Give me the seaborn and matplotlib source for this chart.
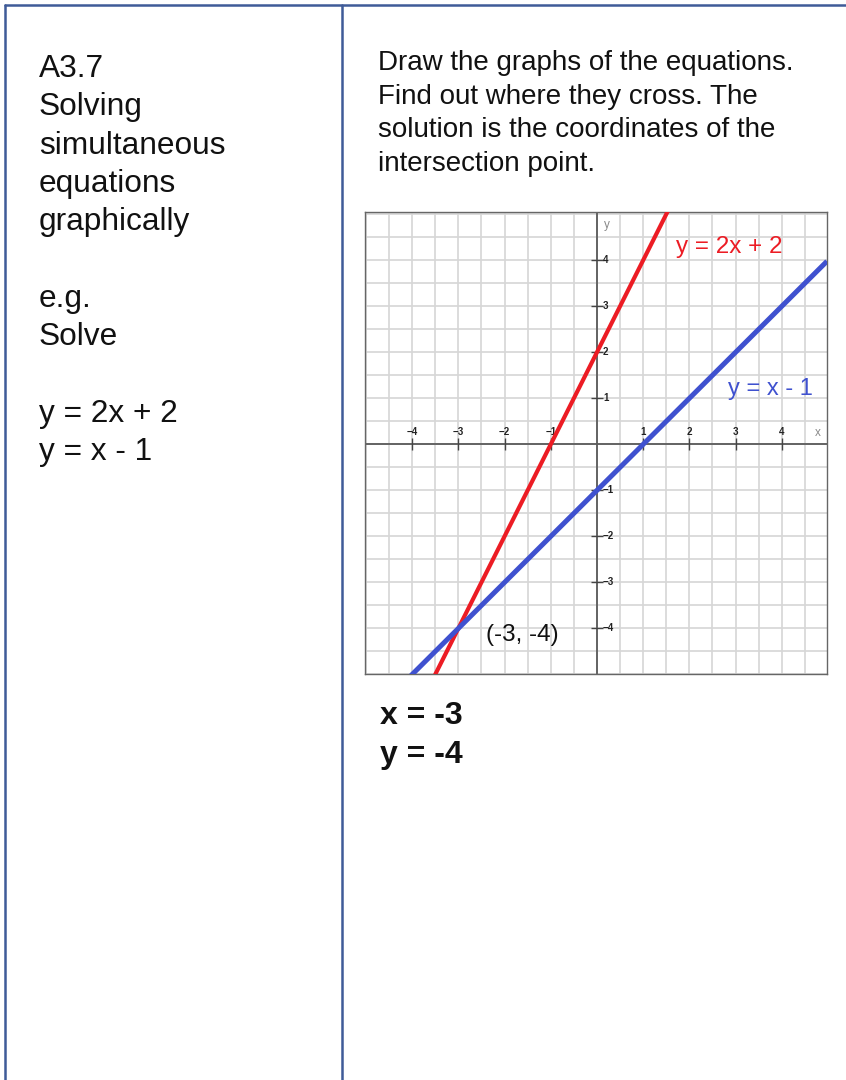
import numpy as np
import pandas as pd
import matplotlib
matplotlib.use("Agg")
import matplotlib.pyplot as plt
from matplotlib.lines import Line2D
import seaborn as sns

# Two linear equations y = m*x + c
equation_labels = ["y = 2x + 2", "y = x - 1"]
slopes = [2, 1]
intercepts = [2, -1]
line_colors = ["#ec1c24", "#3f51cf"]

# Axis ticks drawn on the graph
x_ticks = [-4, -3, -2, -1, 1, 2, 3, 4]
y_ticks = [-4, -3, -2, -1, 1, 2, 3, 4]

left_lines = ["A3.7", "Solving", "simultaneous", "equations", "graphically",
              "", "e.g.", "Solve", "", "y = 2x + 2", "y = x - 1"]
right_lines = ["Draw the graphs of the equations.",
               "Find out where they cross. The",
               "solution is the coordinates of the",
               "intersection point."]

sns.set_theme(style="white")
plt.rcParams["font.family"] = ["Liberation Sans", "DejaVu Sans"]

W, H = 846, 1080
fig = plt.figure(figsize=(W / 100, H / 100), dpi=100)
fig.patch.set_facecolor("white")


def fx(px):
    return px / W


def fy(py):
    return 1 - py / H


# Table borders
border = "#3f5b98"
fig.add_artist(Line2D([fx(5), fx(846)], [fy(5), fy(5)], color=border, lw=1.8))
fig.add_artist(Line2D([fx(5), fx(5)], [fy(5), fy(1080)], color=border, lw=1.8))
fig.add_artist(Line2D([fx(342), fx(342)], [fy(5), fy(1080)], color=border, lw=1.8))

# Left column text
for i, s in enumerate(left_lines):
    if s:
        fig.text(fx(39), fy(77 + i * 38.3), s, fontsize=22.8, color="#111111",
                 va="baseline", ha="left")

# Right column instructions
for i, s in enumerate(right_lines):
    fig.text(fx(378), fy(70 + i * 33.7), s, fontsize=20, color="#111111",
             va="baseline", ha="left")

# Graph axes
ax = fig.add_axes([fx(365), fy(674), (827 - 365) / W, (674 - 212) / H])
xlim = (-5.02, 4.98)
ylim = (-4.99, 5.05)
ax.set_xlim(*xlim)
ax.set_ylim(*ylim)
ax.set_xticks([])
ax.set_yticks([])
for sp in ax.spines.values():
    sp.set_color("#666666")
    sp.set_linewidth(1.0)

# Half-unit grid
for g in np.arange(-5, 5.01, 0.5):
    ax.axvline(g, color="#d6d6d6", lw=1.2, zorder=0)
    ax.axhline(g, color="#d6d6d6", lw=1.2, zorder=0)

# Coordinate axes
ax.axhline(0, color="#5a5a5a", lw=1.3, zorder=1)
ax.axvline(0, color="#5a5a5a", lw=1.3, zorder=1)

# Tick marks and tick labels
ax.plot(x_ticks, np.zeros(len(x_ticks)), linestyle="none", marker="|",
        markersize=8, markeredgewidth=1.0, color="#444444", zorder=2)
ax.plot(np.zeros(len(y_ticks)), y_ticks, linestyle="none", marker="_",
        markersize=8, markeredgewidth=1.0, color="#444444", zorder=2)
for t in x_ticks:
    ax.annotate(str(t).replace("-", "\u2212"), (t, 0), xytext=(0, 12),
                textcoords="offset pixels", ha="center", va="center",
                fontsize=7, fontweight="bold", color="#222222", zorder=2)
for t in y_ticks:
    ax.annotate(str(t).replace("-", "\u2212"), (0, t), xytext=(6, 0),
                textcoords="offset pixels", ha="left", va="center",
                fontsize=7, fontweight="bold", color="#222222", zorder=2)
ax.annotate("y", (0, 5.05), xytext=(10, -13), textcoords="offset pixels",
            ha="center", va="center", fontsize=8.5, color="#8a8a8a")
ax.annotate("x", (4.98, 0), xytext=(-9, 11), textcoords="offset pixels",
            ha="center", va="center", fontsize=8.5, color="#8a8a8a")

# The two straight lines
xs = np.linspace(xlim[0], xlim[1], 400)
widths = [3.0, 3.6]
for label, m, c, col, lw in zip(equation_labels, slopes, intercepts, line_colors, widths):
    df = pd.DataFrame({"x": xs, "y": m * xs + c})
    sns.lineplot(data=df, x="x", y="y", ax=ax, color=col, lw=lw,
                 estimator=None, sort=False, zorder=3, solid_capstyle="butt")
ax.set_xlabel("")
ax.set_ylabel("")
ax.set_xlim(*xlim)
ax.set_ylim(*ylim)

# Equation labels
ax.text(1.71, 4.16, equation_labels[0], color=line_colors[0], fontsize=17.5,
        va="baseline", ha="left", zorder=4)
ax.text(2.84, 1.08, equation_labels[1], color=line_colors[1], fontsize=17,
        va="baseline", ha="left", zorder=4)

# Intersection point
xi = (intercepts[1] - intercepts[0]) / (slopes[0] - slopes[1])
yi = slopes[0] * xi + intercepts[0]
ax.annotate(f"({xi:g}, {yi:g})", (xi, yi), xytext=(28, -13),
            textcoords="offset pixels", ha="left", va="baseline",
            fontsize=17.5, color="#111111", zorder=4)

# Solution
fig.text(fx(380), fy(724), f"x = {xi:g}", fontsize=23, fontweight="bold",
         color="#111111", va="baseline", ha="left")
fig.text(fx(380), fy(763), f"y = {yi:g}", fontsize=23, fontweight="bold",
         color="#111111", va="baseline", ha="left")

fig.savefig("out.png", dpi=100, facecolor="white")
